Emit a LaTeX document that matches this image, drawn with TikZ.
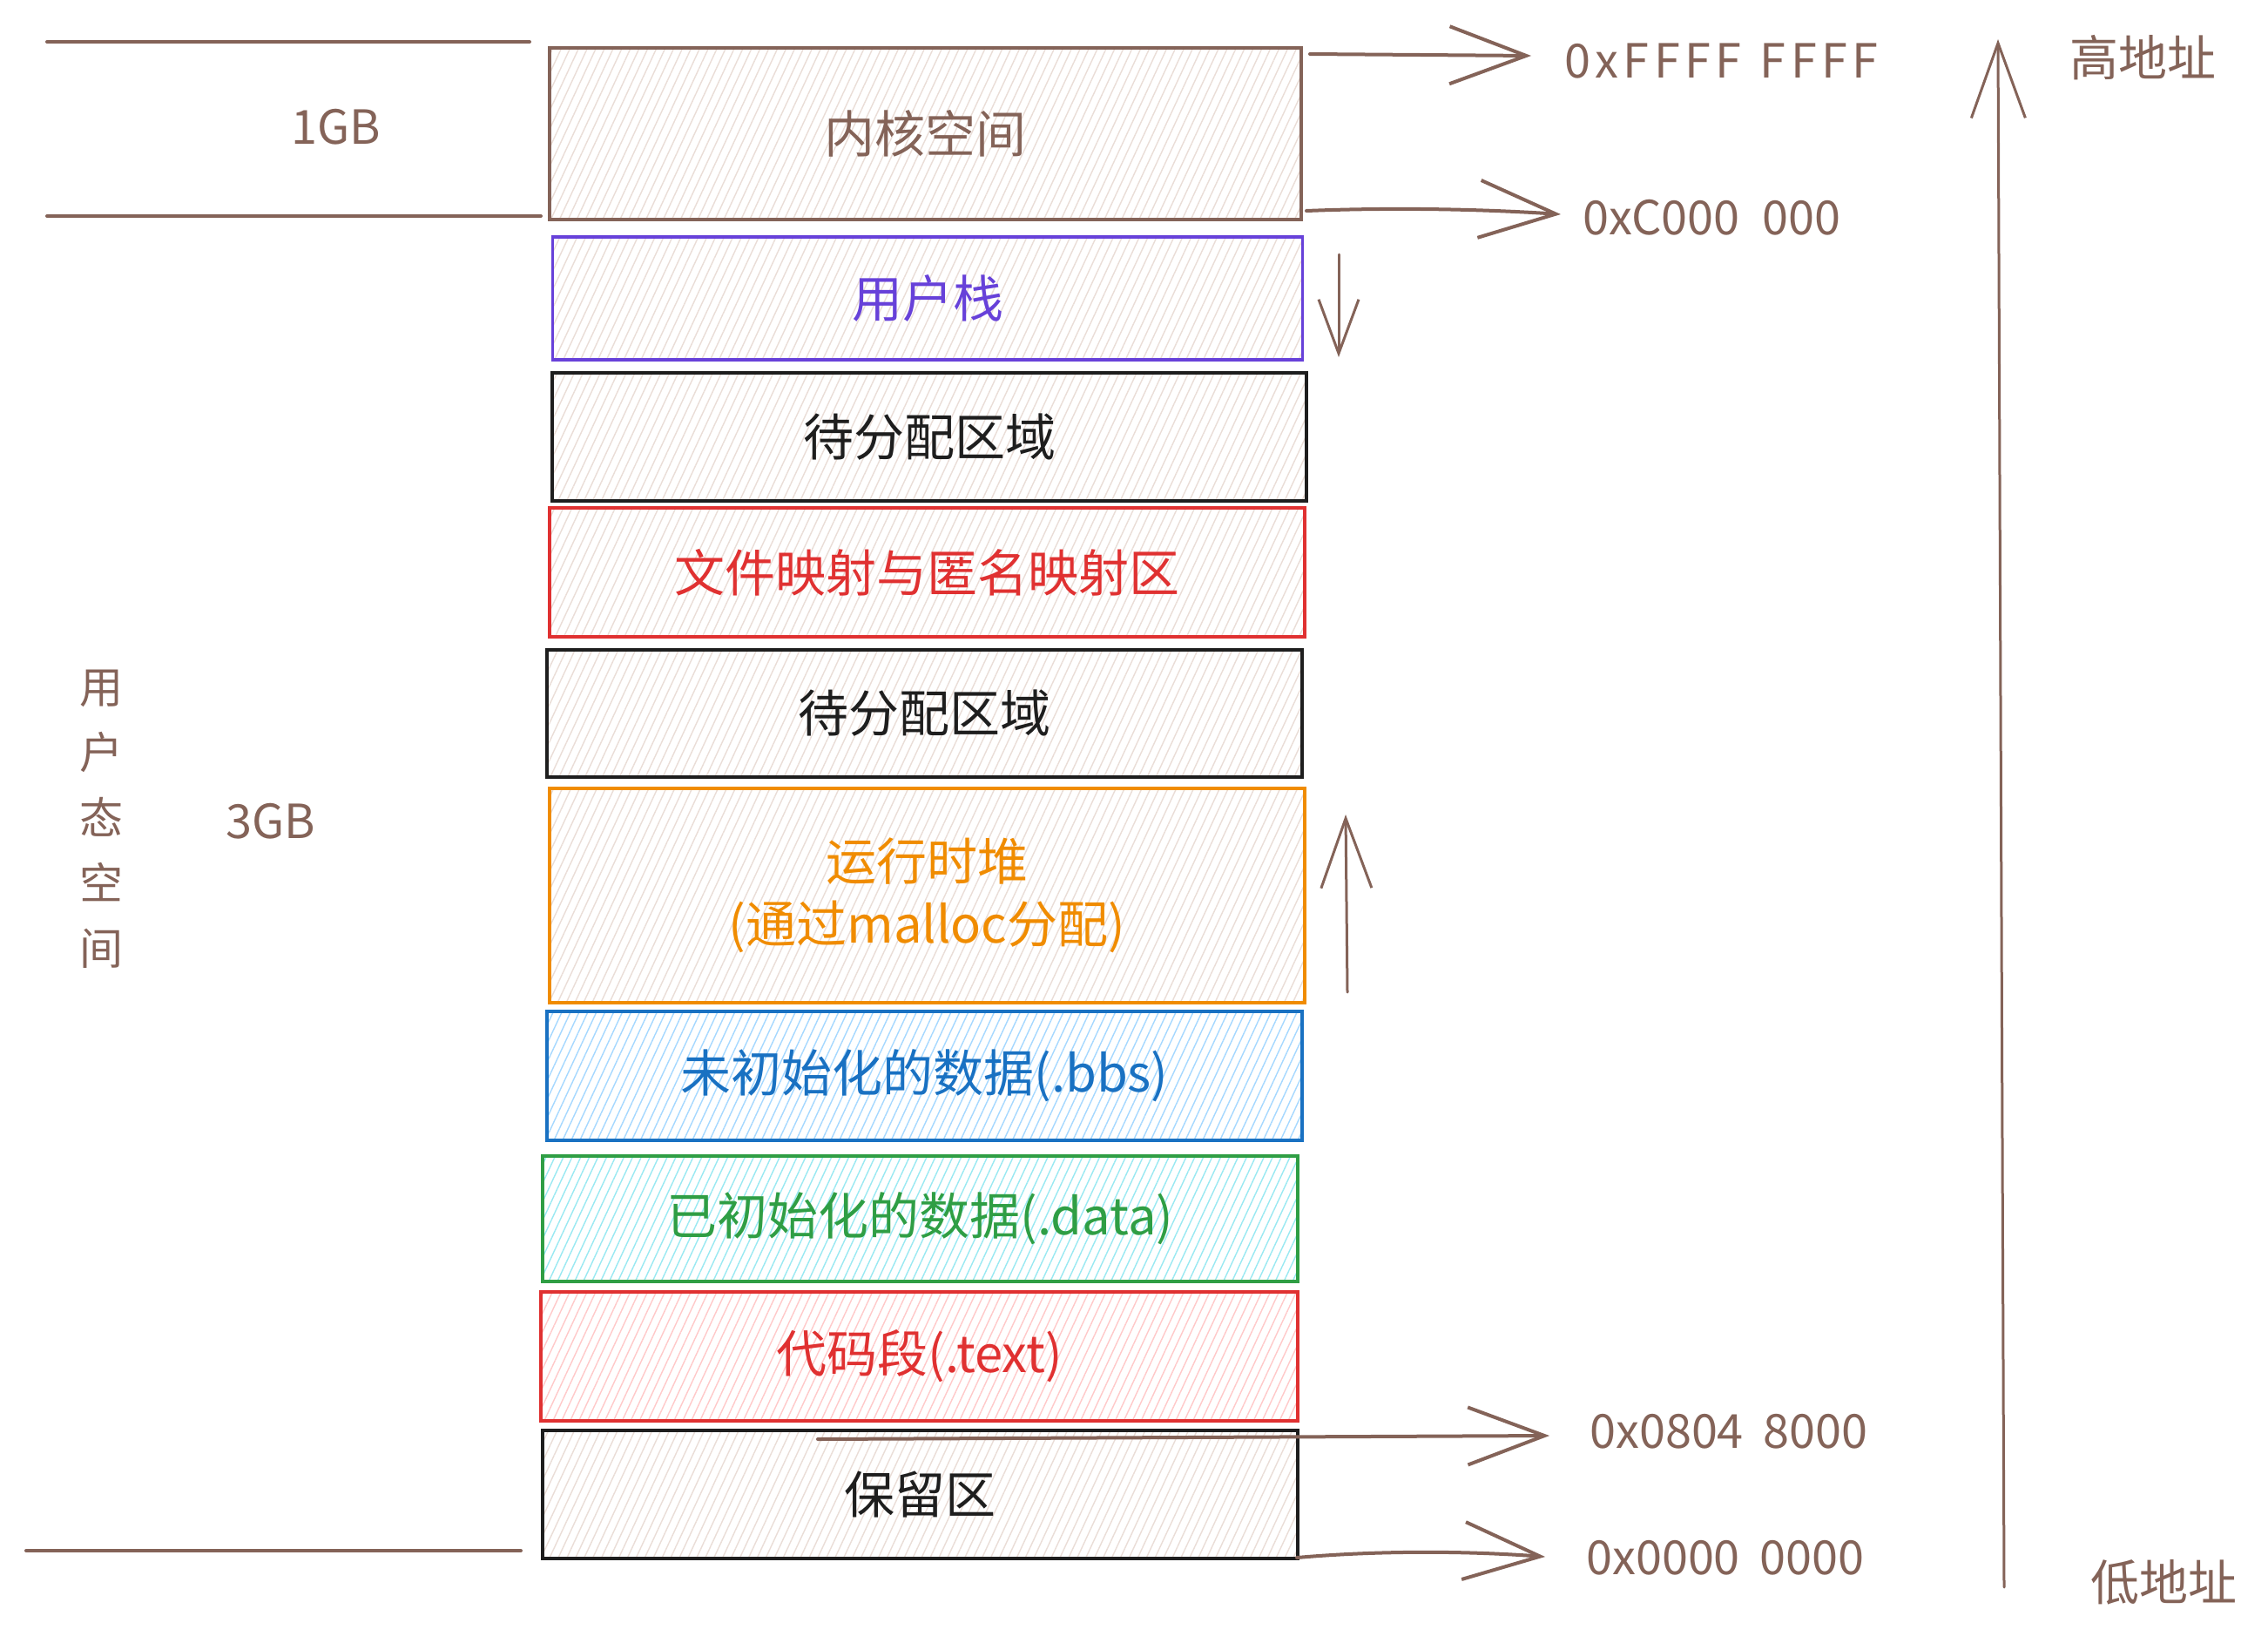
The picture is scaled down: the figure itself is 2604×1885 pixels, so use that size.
\documentclass[tikz,border=0pt]{standalone}
\usepackage{fontspec}
\newfontfamily\cjk{Noto Sans CJK SC}
\newfontfamily\cjkw[LetterSpace=10]{Noto Sans CJK SC}
\usetikzlibrary{arrows.meta,patterns.meta}
\definecolor{brn}{HTML}{846358}
\definecolor{brnfill}{HTML}{EADDD7}
\definecolor{pur}{HTML}{6741D9}
\definecolor{blk}{HTML}{1E1E1E}
\definecolor{redd}{HTML}{E03131}
\definecolor{redfill}{HTML}{FFC9C9}
\definecolor{org}{HTML}{F08C00}
\definecolor{blu}{HTML}{1971C2}
\definecolor{blufill}{HTML}{A5D8FF}
\definecolor{grn}{HTML}{2F9E44}
\definecolor{cyanfill}{HTML}{99E9F2}
\tikzset{
  seg/.style={rectangle, line width=3.5pt, inner sep=0pt, align=center,
    font=\cjk\fontsize{58}{72}\selectfont},
  hatch/.style={pattern={Lines[angle=65,distance=9pt,line width=1.4pt]}, pattern color=#1},
  lblw/.style={text=brn, inner sep=0pt, font=\cjkw\fontsize{54}{64}\selectfont},
  lbl/.style={text=brn, inner sep=0pt, font=\cjk\fontsize{54}{64}\selectfont},
  zh/.style={text=brn, inner sep=0pt, font=\cjk\fontsize{56}{64}\selectfont},
  sepline/.style={draw=brn, line width=4pt, line cap=round},
  addrarrow/.style={draw=brn, line width=4pt, line cap=round,
    -{Straight Barb[length=88pt,width=66pt,line width=4pt]}},
  axisarrow/.style={draw=brn, line width=3pt, line cap=round,
    -{Straight Barb[length=86pt,width=62pt,line width=3pt]}},
}
\begin{document}
\begin{tikzpicture}[x=1pt,y=-1pt]
\useasboundingbox[fill=white] (0,0) rectangle (2604,1885);

% segments
\node[seg, draw=brn, hatch=brnfill, text=brn, minimum width=863pt, minimum height=197pt] (kernel) at (1062.5,153.5) {内核空间};
\node[seg, draw=pur, hatch=brnfill, text=pur, minimum width=861pt, minimum height=141pt] (stack) at (1065,342.5) {用户栈};
\node[seg, draw=blk, hatch=brnfill, text=blk, minimum width=866pt, minimum height=147pt] (free1) at (1067,501.5) {待分配区域};
\node[seg, draw=redd, hatch=brnfill, text=redd, minimum width=867pt, minimum height=148pt] (mmap) at (1064.5,657) {文件映射与匿名映射区};
\node[seg, draw=blk, hatch=brnfill, text=blk, minimum width=867pt, minimum height=146pt] (free2) at (1061.5,819) {待分配区域};
\node[seg, draw=org, hatch=brnfill, text=org, minimum width=867pt, minimum height=246pt] (heap) at (1064.5,1028) {运行时堆\\(通过malloc分配)};
\node[seg, draw=blu, hatch=blufill, text=blu, minimum width=867pt, minimum height=148pt] (bss) at (1061.5,1235) {未初始化的数据(.bbs)};
\node[seg, draw=grn, hatch=cyanfill, text=grn, minimum width=867pt, minimum height=144pt] (data) at (1056.5,1399) {已初始化的数据(.data)};
\node[seg, draw=redd, hatch=redfill, text=redd, minimum width=869pt, minimum height=148pt] (text) at (1055.5,1557) {代码段(.text)};
\node[seg, draw=blk, hatch=brnfill, text=blk, minimum width=867pt, minimum height=147pt] (resv) at (1056.5,1715.5) {保留区};

% left separator lines
\coordinate (l1a) at (54,48);   \coordinate (l1b) at (608,48);
\coordinate (l2a) at (54,248);  \coordinate (l2b) at (621,248);
\coordinate (l3a) at (30,1780); \coordinate (l3b) at (598,1780);
\draw[sepline] (l1a) -- (l1b);
\draw[sepline] (l2a) -- (l2b);
\draw[sepline] (l3a) -- (l3b);

% left labels
\node[lbl] (g1) at (386,146) {1GB};
\node[lbl] (g3) at (311,943) {3GB};
\node[zh, align=center, font=\cjk\fontsize{50}{75}\selectfont] (user) at (116,940) {用\\户\\态\\空\\间};

% address labels
\node[lblw, anchor=west] (aF) at (1796,70) {0xFFFF\hspace{0.4em}FFFF};
\node[lbl, anchor=west] (aC) at (1817,250) {0xC000\hspace{0.25em} 000};
\node[lbl, anchor=west] (a8) at (1825,1643) {0x0804\hspace{0.2em} 8000};
\node[lbl, anchor=west] (a0) at (1821,1788) {0x0000\hspace{0.2em} 0000};

% address arrows
\coordinate (sF) at (1504,62);  \coordinate (tF) at (1758,64);
\coordinate (sC) at (1500,242); \coordinate (tC) at (1792,246);
\coordinate (s8) at (939,1652); \coordinate (t8) at (1779,1648);
\coordinate (s0) at (1489,1788); \coordinate (t0) at (1774,1787);
\draw[addrarrow] (sF) -- (tF);
\draw[addrarrow] (sC) .. controls (1600,238) and (1700,240) .. (tC);
\draw[addrarrow] (s8) -- (t8);
\draw[addrarrow] (s0) .. controls (1580,1780) and (1680,1780) .. (t0);

% growth arrows
\coordinate (dS) at (1537,292); \coordinate (dT) at (1537,410);
\draw[draw=brn, line width=3pt, line cap=round, -{Straight Barb[length=62pt,width=46pt,line width=3pt]}] (dS) -- (dT);
\coordinate (uS) at (1547,1139); \coordinate (uT) at (1545,935);
\draw[draw=brn, line width=3pt, line cap=round, -{Straight Barb[length=80pt,width=58pt,line width=3pt]}] (uS) -- (uT);

% address axis
\coordinate (axB) at (2301,1822); \coordinate (axT) at (2294,45);
\draw[axisarrow] (axB) -- (axT);
\node[zh] (hi) at (2460,66) {高地址};
\node[zh] (lo) at (2484,1816) {低地址};
\end{tikzpicture}
\end{document}
